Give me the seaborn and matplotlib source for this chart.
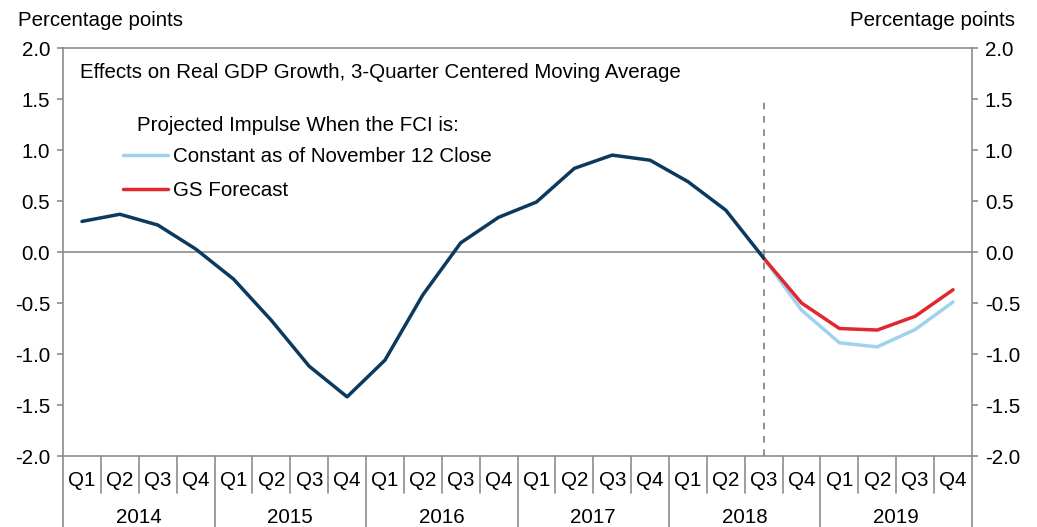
import seaborn as sns
import matplotlib.pyplot as plt
import matplotlib.transforms as mtransforms
import pandas as pd

# data
years = ["2014", "2015", "2016", "2017", "2018", "2019"]
quarters = ["Q1", "Q2", "Q3", "Q4"]
history = [0.30, 0.37, 0.265, 0.03, -0.265, -0.67, -1.12, -1.42,
           -1.06, -0.42, 0.09, 0.34, 0.49, 0.82, 0.95, 0.90,
           0.69, 0.41, -0.06]
constant_fci = [-0.06, -0.57, -0.89, -0.93, -0.76, -0.49]
gs_forecast = [-0.06, -0.50, -0.75, -0.765, -0.63, -0.37]

labels = [q for y in years for q in quarters]
n = len(labels)
start = len(history) - 1

df_hist = pd.DataFrame({"x": range(len(history)), "y": history})
df_fc = pd.DataFrame({"x": range(start, start + len(gs_forecast)),
                      "const": constant_fci, "gs": gs_forecast})

sns.set_style("white")
plt.rcParams["font.family"] = ["Liberation Sans", "DejaVu Sans"]
plt.rcParams["text.color"] = "black"
plt.rcParams["ytick.labelcolor"] = "black"
fs = 14.8
plt.rcParams["font.size"] = fs

fig = plt.figure(figsize=(10.37, 5.27), dpi=100)
ax = fig.add_axes([0.0608, 0.1347, 0.8765, 0.7742])

grey = "#8c8c8c"

ax.axhline(0, color=grey, lw=1.2, zorder=1)
ax.vlines(start, -2, 1.5, colors="#7f7f7f", linestyles=(0, (4, 4)), lw=1.2, zorder=1)

sns.lineplot(data=df_fc, x="x", y="const", ax=ax, color="#9dd3ee", lw=2.5,
             label="Constant as of November 12 Close")
sns.lineplot(data=df_fc, x="x", y="gs", ax=ax, color="#e0282e", lw=2.5,
             label="GS Forecast")
sns.lineplot(data=df_hist, x="x", y="y", ax=ax, color="#0b3a5e", lw=2.5)

ax.set_xlim(-0.5, n - 0.5)
ax.set_ylim(-2, 2)
ax.set_yticks([-2, -1.5, -1, -0.5, 0, 0.5, 1, 1.5, 2])
ax.set_yticklabels([f"{v:.1f}" for v in ax.get_yticks()])
ax.set_xticks([])
ax.set_xlabel("")
ax.set_ylabel("")
ax.tick_params(axis="y", left=True, right=True, labelleft=True, labelright=True,
               direction="out", length=4.3, width=1.2, color=grey,
               labelcolor="black", labelsize=fs, pad=5)
for s in ax.spines.values():
    s.set_color(grey)
    s.set_linewidth(1.2)

# quarter / year axis below the plot
trans = mtransforms.blended_transform_factory(ax.transData, ax.transAxes)
for i in range(n + 1):
    low = -0.175 if i % 4 == 0 else -0.091
    ax.plot([i - 0.5, i - 0.5], [0, low], transform=trans, color=grey,
            lw=1.2, clip_on=False)
for i, lab in enumerate(labels):
    ax.text(i, -0.061, lab, transform=trans, ha="center", va="center", fontsize=fs)
for j, yr in enumerate(years):
    ax.text(j * 4 + 1.5, -0.15, yr, transform=trans, ha="center", va="center", fontsize=fs)

# texts
fig.text(18 / 1037, 1 - 20 / 527, "Percentage points", ha="left", va="center", fontsize=fs)
fig.text(1015 / 1037, 1 - 20 / 527, "Percentage points", ha="right", va="center", fontsize=fs)
ax.text(0.0187, 0.941, "Effects on Real GDP Growth, 3-Quarter Centered Moving Average",
        transform=ax.transAxes, ha="left", va="center", fontsize=fs)
ax.text(0.0814, 0.811, "Projected Impulse When the FCI is:",
        transform=ax.transAxes, ha="left", va="center", fontsize=fs)

leg = ax.legend(loc="upper left", bbox_to_anchor=(0.066, 0.757), frameon=False,
                borderpad=0, borderaxespad=0, handlelength=2.2, handletextpad=0.25,
                labelspacing=0.72, fontsize=fs)
for t in leg.get_texts():
    t.set_color("black")

plt.savefig("out.png", dpi=100)
